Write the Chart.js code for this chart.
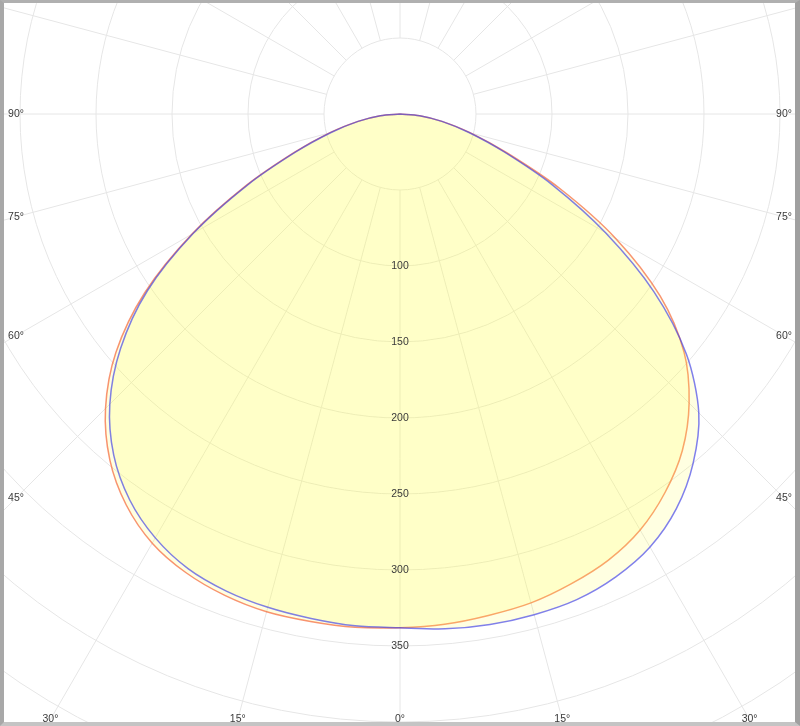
<!DOCTYPE html>
<html>
<head>
<meta charset="utf-8">
<title>Polar intensity diagram</title>
<script src="https://cdn.jsdelivr.net/npm/chart.js@4.4.0/dist/chart.umd.min.js"></script>
<style>
    html, body { margin: 0; padding: 0; background: #fff; }
    #wrap { position: relative; width: 800px; height: 726px; overflow: hidden; }
    #chart { position: absolute; left: 0; top: 0; }
    #frame {
        position: absolute; left: 0; top: 0; width: 800px; height: 726px;
        box-sizing: border-box; pointer-events: none;
        border-top: 3px solid #b0b0b0;
        border-left: 4px solid #a8a8a8;
        border-right: 5px solid #a0a0a0;
        border-bottom: 4px solid #c4c4c4;
    }
</style>
</head>
<body>
<div id="wrap">
    <canvas id="chart" width="800" height="726"></canvas>
    <div id="frame"></div>
</div>
<script>
// gamma angles in degrees, measured from nadir (0 = straight down)
const gammaAngles = [0, 5, 10, 15, 20, 25, 30, 35, 40, 45, 50, 55, 60, 65, 70, 75, 80, 85, 90];

// luminous intensity (cd) per half plane
const orangeLeft  = [338, 339, 339, 339, 337, 333, 326, 314, 297, 274, 244, 205, 158, 112, 74, 48, 28, 13, 0];
const orangeRight = [338, 337, 335, 333, 329, 324, 316, 304, 289, 269, 244, 209, 164, 116, 75, 48, 28, 13, 0];
const blueLeft    = [338, 338, 337, 336, 334, 330, 322, 310, 293, 270, 240, 203, 157, 111, 73, 47, 28, 13, 0];
const blueRight   = [338, 340, 341, 341, 340, 336, 329, 317, 300, 278, 246, 204, 156, 111, 73, 47, 28, 13, 0];

// grid
const ringValues = [50, 100, 150, 200, 250, 300, 350, 400, 450, 500];
const ringLabels = [100, 150, 200, 250, 300, 350];
const spokeStep = 15;
const angleLabels = [0, 15, 30, 45, 60, 75, 90];

const toRad = (d) => d * Math.PI / 180;

// turn two half planes into one closed outline (left 90 -> 0 -> right 90)
function outline(left, right) {
    const pts = [];
    for (let i = gammaAngles.length - 1; i >= 0; i--) {
        const g = toRad(gammaAngles[i]);
        pts.push({ x: -left[i] * Math.sin(g), y: -left[i] * Math.cos(g) });
    }
    for (let i = 1; i < gammaAngles.length; i++) {
        const g = toRad(gammaAngles[i]);
        pts.push({ x: right[i] * Math.sin(g), y: -right[i] * Math.cos(g) });
    }
    return pts;
}

const polarGrid = {
    id: 'polarGrid',
    beforeDatasetsDraw(chart) {
        const { ctx, scales: { x, y } } = chart;
        const cx = x.getPixelForValue(0);
        const cy = y.getPixelForValue(0);
        const unit = x.getPixelForValue(1) - cx;

        ctx.save();
        ctx.strokeStyle = '#e6e6e6';
        ctx.lineWidth = 1;

        ringValues.forEach(r => {
            ctx.beginPath();
            ctx.arc(cx, cy, r * unit, 0, Math.PI * 2);
            ctx.stroke();
        });

        for (let a = 0; a < 360; a += spokeStep) {
            const s = Math.sin(toRad(a)), c = Math.cos(toRad(a));
            const r0 = ringValues[0], r1 = 700;
            ctx.beginPath();
            ctx.moveTo(x.getPixelForValue(-r0 * s), y.getPixelForValue(-r0 * c));
            ctx.lineTo(x.getPixelForValue(-r1 * s), y.getPixelForValue(-r1 * c));
            ctx.stroke();
        }
        ctx.restore();
    },
    afterDatasetsDraw(chart) {
        const { ctx, scales: { x, y } } = chart;
        const cx = x.getPixelForValue(0);
        const cy = y.getPixelForValue(0);

        ctx.save();
        ctx.fillStyle = '#3a3a3a';
        ctx.font = '10.5px "Liberation Sans", Arial, sans-serif';
        ctx.textAlign = 'center';
        ctx.textBaseline = 'middle';

        // intensity values along the nadir line
        ringLabels.forEach(v => {
            ctx.fillText(String(v), cx, y.getPixelForValue(-v) + 0.5);
        });

        // angle labels sit where each spoke meets an inset frame
        const leftX = 16, rightX = chart.width - 16, bottomY = chart.height - 6.5;
        angleLabels.forEach(a => {
            const s = Math.sin(toRad(a)), c = Math.cos(toRad(a));
            [-1, 1].forEach(side => {
                if (a === 0 && side === 1) return;
                let t = Infinity;
                if (s > 1e-6) t = Math.min(t, side < 0 ? (cx - leftX) / s : (rightX - cx) / s);
                if (c > 1e-6) t = Math.min(t, (bottomY - cy) / c);
                const px = cx + side * t * s;
                const py = cy + t * c;
                ctx.fillText(a + '\u00b0', px, py);
            });
        });
        ctx.restore();
    }
};

new Chart(document.getElementById('chart'), {
    type: 'scatter',
    data: {
        datasets: [
            {
                label: 'C90 - C270',
                data: outline(blueLeft, blueRight),
                showLine: true,
                borderColor: 'rgba(60, 60, 230, 0.65)',
                backgroundColor: 'rgba(255, 255, 80, 0.17)',
                borderWidth: 1.5,
                fill: 'shape',
                pointRadius: 0,
                tension: 0.3
            },
            {
                label: 'C0 - C180',
                data: outline(orangeLeft, orangeRight),
                showLine: true,
                borderColor: 'rgba(245, 90, 40, 0.65)',
                backgroundColor: 'rgba(255, 255, 80, 0.17)',
                borderWidth: 1.5,
                fill: 'shape',
                pointRadius: 0,
                tension: 0.3
            }
        ]
    },
    options: {
        responsive: false,
        animation: false,
        layout: { padding: 0 },
        plugins: {
            legend: { display: false },
            tooltip: { enabled: false }
        },
        scales: {
            x: { type: 'linear', min: -263.16, max: 263.16, display: false },
            y: { type: 'linear', min: -402.63, max: 75, display: false }
        }
    },
    plugins: [polarGrid]
});
</script>
</body>
</html>
